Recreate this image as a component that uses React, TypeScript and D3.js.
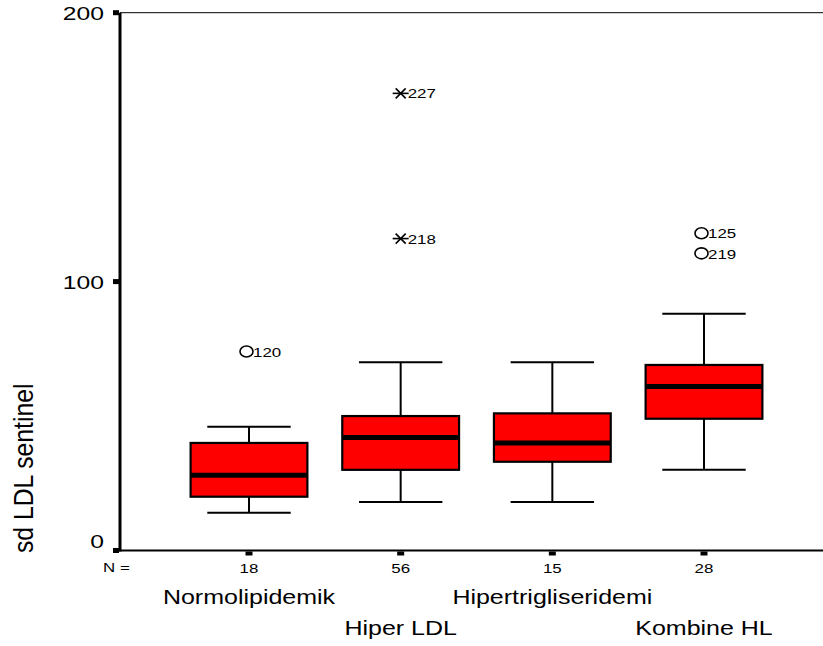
import React, { useEffect, useRef } from 'react';
import * as d3 from 'd3';

// box plot summary per group
const categories = ['Normolipidemik', 'Hiper LDL', 'Hipertrigliseridemi', 'Kombine HL'];
const counts = [18, 56, 15, 28];
const lowerWhisker = [14, 18, 18, 30];
const q1 = [20, 30, 33, 49];
const medians = [28, 42, 40, 61];
const q3 = [40, 50, 51, 69];
const upperWhisker = [46, 70, 70, 88];

// outliers (circle) and extremes (star) with case labels
const outlierGroups = [0, 1, 1, 3, 3];
const outlierValues = [74, 170, 116, 118, 110.5];
const outlierIds = ['120', '227', '218', '125', '219'];
const outlierKinds = ['o', '*', '*', 'o', 'o'];

const yTicks = [0, 100, 200];
const yTitle = 'sd LDL sentinel';

const W = 823;
const H = 646;
const FONT = 'Arial, "Liberation Sans", Helvetica, sans-serif';
const SX = 1.3; // the source picture is stretched horizontally

const App = () => {
  const ref = useRef<SVGSVGElement>(null);

  useEffect(() => {
    const svg = d3.select(ref.current);
    svg.selectAll('*').remove();

    const left = 120;
    const top = 12.7;
    const bottom = 550.5;

    const y = d3.scaleLinear().domain([0, 200]).range([bottom, top]);
    const x = d3.scalePoint<string>().domain(categories).range([249, 704]);
    const step = x.step();
    const boxW = step * 0.77;
    const capW = step * 0.55;

    const label = (g, tx, ty, str, size, anchor = 'start', sx = SX) =>
      g.append('text')
        .attr('transform', `translate(${tx},${ty}) scale(${sx},1)`)
        .attr('text-anchor', anchor)
        .style('font-family', FONT)
        .style('font-size', `${size}px`)
        .style('fill', '#000')
        .text(str);

    // frame: thin top line, thick left and bottom axes
    svg.append('line')
      .attr('x1', left).attr('x2', W).attr('y1', top).attr('y2', top)
      .attr('stroke', '#000').attr('stroke-width', 1);
    svg.append('line')
      .attr('x1', left).attr('x2', left).attr('y1', top).attr('y2', bottom + 1)
      .attr('stroke', '#000').attr('stroke-width', 3);
    svg.append('line')
      .attr('x1', left - 1.5).attr('x2', W).attr('y1', bottom).attr('y2', bottom)
      .attr('stroke', '#000').attr('stroke-width', 2);

    // y ticks
    yTicks.forEach((t) => {
      svg.append('rect')
        .attr('x', left - 7).attr('y', y(t) - 2.5)
        .attr('width', 6).attr('height', 5).attr('fill', '#000');
      const ty = Math.min(y(t) + 7.5, bottom - 3);
      label(svg, left - 16, ty, String(t), 19, 'end');
    });

    // y title
    svg.append('text')
      .attr('transform', `translate(33,553) rotate(-90) scale(1.15,1.3)`)
      .style('font-family', FONT)
      .style('font-size', '21.5px')
      .text(yTitle);

    // x ticks, counts and category names
    label(svg, 103, 572, 'N =', 13, 'start');
    categories.forEach((c, i) => {
      const cx = x(c);
      svg.append('rect')
        .attr('x', cx - 3.5).attr('y', bottom + 1)
        .attr('width', 7).attr('height', 4).attr('fill', '#000');
      label(svg, cx, 573, String(counts[i]), 13, 'middle');
      label(svg, cx, i % 2 === 0 ? 604 : 635, c, 20, 'middle', 1.25);
    });

    // boxes
    const g = svg.append('g');
    categories.forEach((c, i) => {
      const cx = x(c);
      g.append('line')
        .attr('x1', cx).attr('x2', cx)
        .attr('y1', y(upperWhisker[i])).attr('y2', y(q3[i]))
        .attr('stroke', '#000').attr('stroke-width', 2);
      g.append('line')
        .attr('x1', cx).attr('x2', cx)
        .attr('y1', y(q1[i])).attr('y2', y(lowerWhisker[i]))
        .attr('stroke', '#000').attr('stroke-width', 2);
      [upperWhisker[i], lowerWhisker[i]].forEach((v) => {
        g.append('line')
          .attr('x1', cx - capW / 2).attr('x2', cx + capW / 2)
          .attr('y1', y(v)).attr('y2', y(v))
          .attr('stroke', '#000').attr('stroke-width', 2);
      });
      g.append('rect')
        .attr('x', cx - boxW / 2).attr('y', y(q3[i]))
        .attr('width', boxW).attr('height', y(q1[i]) - y(q3[i]))
        .attr('fill', '#ff0000').attr('stroke', '#000').attr('stroke-width', 2.2);
      g.append('line')
        .attr('x1', cx - boxW / 2).attr('x2', cx + boxW / 2)
        .attr('y1', y(medians[i])).attr('y2', y(medians[i]))
        .attr('stroke', '#000').attr('stroke-width', 5);
    });

    // outliers / extremes
    outlierValues.forEach((v, i) => {
      const cx = x(categories[outlierGroups[i]]);
      const cy = y(v);
      if (outlierKinds[i] === 'o') {
        const ox = cx - 2.5;
        g.append('ellipse')
          .attr('cx', ox).attr('cy', cy).attr('rx', 6.5).attr('ry', 5.5)
          .attr('fill', 'none').attr('stroke', '#000').attr('stroke-width', 1.6);
        label(g, ox + 6.5, cy + 5.3, outlierIds[i], 13, 'start');
      } else {
        const s = g.append('g').attr('stroke', '#000').attr('stroke-width', 1.6);
        s.append('line').attr('x1', cx - 8).attr('x2', cx + 8).attr('y1', cy).attr('y2', cy);
        s.append('line').attr('x1', cx - 5).attr('x2', cx + 5).attr('y1', cy - 5).attr('y2', cy + 5);
        s.append('line').attr('x1', cx - 5).attr('x2', cx + 5).attr('y1', cy + 5).attr('y2', cy - 5);
        label(g, cx + 7, cy + 5, outlierIds[i], 13, 'start');
      }
    });
  }, []);

  return (
    <svg
      ref={ref}
      width={W}
      height={H}
      style={{ position: 'absolute', left: 0, top: 0, background: '#fff' }}
    />
  );
};

export default App;
